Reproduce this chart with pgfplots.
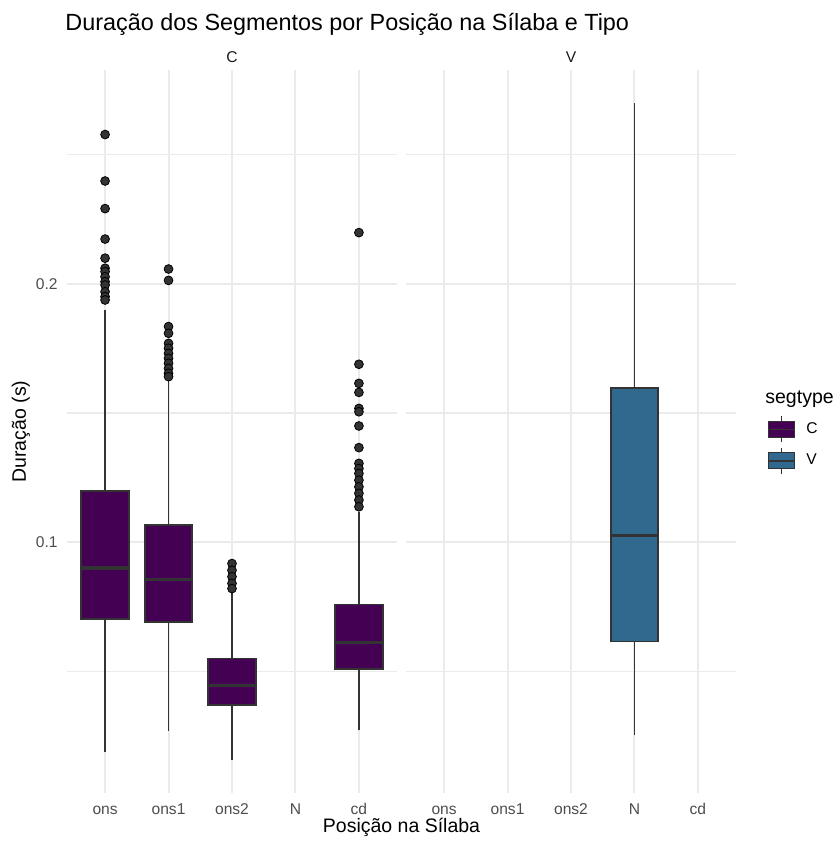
\documentclass[border=0pt]{standalone}
\usepackage{fontspec}
\setmainfont{Liberation Sans}
\usepackage{pgfplots}
\pgfplotsset{compat=1.18}

\definecolor{segC}{HTML}{440154}
\definecolor{segV}{HTML}{31688E}
\definecolor{gridgray}{HTML}{EBEBEB}
\definecolor{ink}{HTML}{333333}
\definecolor{ticktext}{HTML}{4D4D4D}
\definecolor{striptext}{HTML}{1A1A1A}

\newcommand{\smallfont}{\fontsize{7.8}{9}\selectfont}
\newcommand{\labelfont}{\fontsize{9.75}{11}\selectfont}
\newcommand{\titlefont}{\fontsize{11.7}{13}\selectfont}

\pgfplotsset{
  panel/.style={
    scale only axis, width=165pt, height=361.5pt,
    xmin=0.4, xmax=5.6, ymin=0.0028, ymax=0.2829,
    xtick={1,2,3,4,5}, xticklabels={ons,ons1,ons2,N,cd},
    ytick={0.1,0.2}, minor ytick={0.05,0.15,0.25},
    grid=both,
    major grid style={draw=gridgray, line width=1pt},
    minor grid style={draw=gridgray, line width=0.55pt},
    axis line style={draw=none},
    major tick length=0pt, minor tick length=0pt,
    tick style={draw=none},
    xticklabel style={font=\smallfont, text=ticktext, anchor=base, inner sep=0pt, yshift=-10.5pt},
    yticklabel style={font=\smallfont, text=ticktext, anchor=east, inner sep=0pt, xshift=-4.5pt},
    clip=false,
  },
  outliers/.style={only marks, mark=*, mark size=2.2pt, mark options={fill=ink, draw=none}},
  segkey/.style={
    legend image code/.code={
      \path[draw=none, fill=none] (0pt,0pt) -- (19pt,0pt);
      \draw[ink, line width=0.6pt] (6.5pt,-6.5pt) -- (6.5pt,6.5pt);
      \draw[ink, line width=0.6pt, fill=#1] (0pt,-4pt) rectangle (13pt,4pt);
      \draw[ink, line width=0.9pt] (0pt,0pt) -- (13pt,0pt);
    }
  },
}

% one box: colour, left, centre, right, lower whisker, Q1, median, Q3, upper whisker
\newcommand{\segbox}[9]{%
  \addplot[ink, line width=0.9pt] coordinates {(#3,#5) (#3,#6)};
  \addplot[ink, line width=0.9pt] coordinates {(#3,#8) (#3,#9)};
  \addplot[fill=#1, draw=ink, line width=0.9pt] coordinates {(#2,#6) (#4,#6) (#4,#8) (#2,#8)} -- cycle;
  \addplot[ink, line width=1.6pt] coordinates {(#2,#7) (#4,#7)};
}

\begin{document}
\begin{tikzpicture}
\path[use as bounding box] (0pt,0pt) rectangle (417pt,-420.5pt);

% Panel C: consonants
\begin{axis}[panel, at={(33.5pt,-35pt)}, anchor=north west,
  yticklabels={0.1,0.2}]
  \segbox{segC}{0.625}{1}{1.375}{0.0187}{0.0703}{0.0900}{0.1199}{0.1899}
  \segbox{segC}{1.625}{2}{2.375}{0.0267}{0.0691}{0.0855}{0.1066}{0.1628}
  \segbox{segC}{2.625}{3}{3.375}{0.0155}{0.0368}{0.0446}{0.0549}{0.0814}
  \segbox{segC}{4.625}{5}{5.375}{0.0271}{0.0509}{0.0612}{0.0758}{0.1118}
  \addplot[outliers] table[row sep=\\] {x y\\
    1 0.2579\\ 1 0.2399\\ 1 0.2292\\ 1 0.2174\\ 1 0.2100\\ 1 0.2061\\ 1 0.2048\\
    1 0.2028\\ 1 0.2009\\ 1 0.1996\\ 1 0.1970\\ 1 0.1951\\ 1 0.1938\\
    2 0.2058\\ 2 0.2014\\ 2 0.1835\\ 2 0.1809\\ 2 0.1770\\ 2 0.1751\\ 2 0.1731\\
    2 0.1712\\ 2 0.1693\\ 2 0.1673\\ 2 0.1654\\ 2 0.1641\\
    3 0.0917\\ 3 0.0891\\ 3 0.0866\\ 3 0.0840\\ 3 0.0820\\
    5 0.2199\\ 5 0.1689\\ 5 0.1615\\ 5 0.1580\\ 5 0.1518\\ 5 0.1505\\ 5 0.1450\\
    5 0.1366\\ 5 0.1305\\ 5 0.1285\\ 5 0.1266\\ 5 0.1240\\ 5 0.1214\\ 5 0.1189\\
    5 0.1163\\ 5 0.1137\\};
\end{axis}

% Panel V: vowels
\begin{axis}[panel, at={(203pt,-35pt)}, anchor=north west,
  yticklabels={},
  legend style={at={(rel axis cs:1.0939,0.4813)}, anchor=west,
    draw=none, fill=none, inner sep=0pt, font=\smallfont,
    row sep=2pt, cells={anchor=west},
    nodes={inner sep=0pt}},
  legend cell align=left]
  \addlegendimage{segkey=segC}
  \addlegendentry{C}
  \addlegendimage{segkey=segV}
  \addlegendentry{V}
  \segbox{segV}{3.625}{4}{4.375}{0.0252}{0.0615}{0.1027}{0.1596}{0.2702}
\end{axis}

% Titles and labels
\node[anchor=base west, inner sep=0pt, font=\titlefont] at (32.5pt,-15pt)
  {Duração dos Segmentos por Posição na Sílaba e Tipo};
\node[anchor=base, inner sep=0pt, font=\smallfont, text=striptext] at (116pt,-31.3pt) {C};
\node[anchor=base, inner sep=0pt, font=\smallfont, text=striptext] at (285.5pt,-31.3pt) {V};
\node[anchor=base, inner sep=0pt, font=\labelfont] at (200.75pt,-416.2pt) {Posição na Sílaba};
\node[rotate=90, inner sep=0pt, font=\labelfont] at (10.5pt,-215.75pt) {Duração (s)};
\node[anchor=base west, inner sep=0pt, font=\labelfont] at (382.5pt,-201.5pt) {segtype};
\end{tikzpicture}
\end{document}
